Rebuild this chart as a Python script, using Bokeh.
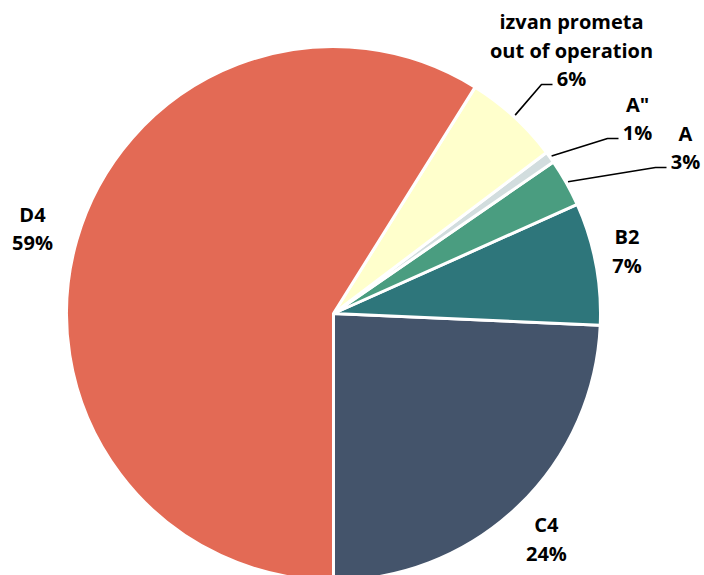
import math
from bokeh.plotting import figure
from bokeh.models import Range1d, ColumnDataSource
from bokeh.core.properties import value
from bokeh.embed import file_html
from bokeh.resources import INLINE

# ---- data ----
categories = ["C4", "B2", "A", 'A"', "izvan prometa|out of operation", "D4"]
shares = [24.3, 7.4, 2.9, 0.7, 5.8, 58.9]
colors = ["#44546B", "#2E767B", "#4A9D80", "#D2DDDE", "#FFFFCC", "#E36A55"]

# ---- layout (page pixels) ----
W, H = 704, 575
PAGE_CX, PAGE_CY = 333, 313
R = 267
LABEL_DIST = 308
LINE_GAP = 28.5
# elbow points for small slices that get leader lines (page px)
leader_elbows = {"A": (655, 167), 'A"': (607, 138), "izvan prometa|out of operation": (541, 84)}
# small page-pixel nudges for directly placed labels
label_nudge = {"C4": (0, 3), "B2": (-9, -5), "D4": (-5, 0)}
LEADER_TAIL = 11
FONT = "Open Sans"
FSIZE = "20px"


def to_data(px, py):
    return px, H - py


CX, CY = to_data(PAGE_CX, PAGE_CY)

total = sum(shares)
starts, ends = [], []
a = -math.pi / 2
for s in shares:
    starts.append(a)
    a += s / total * 2 * math.pi
    ends.append(a)

p = figure(width=W, height=H, output_backend="svg", toolbar_location=None,
           x_range=Range1d(0, W), y_range=Range1d(0, H),
           x_axis_type=None, y_axis_type=None, min_border=0,
           outline_line_color=None, background_fill_color="white")
p.grid.visible = False

src = ColumnDataSource(dict(start=starts, end=ends, color=colors))
p.wedge(x=CX, y=CY, radius=R, start_angle="start", end_angle="end",
        fill_color="color", line_color="white", line_width=3, source=src)

tx, ty, tt = [], [], []
lxs, lys = [], []
for cat, s, st, en in zip(categories, shares, starts, ends):
    mid = (st + en) / 2
    lines = cat.split("|") + ["%d%%" % round(s / total * 100)]
    n = len(lines)
    if cat in leader_elbows:
        ex, ey = to_data(*leader_elbows[cat])
        sx = CX + (R + 2) * math.cos(mid)
        sy = CY + (R + 2) * math.sin(mid)
        lxs.append([sx, ex, ex + LEADER_TAIL])
        lys.append([sy, ey, ey])
        bx = ex + LEADER_TAIL + 19
        by_last = ey + 6
        for i, ln in enumerate(lines):
            tx.append(bx)
            ty.append(by_last + (n - 1 - i) * LINE_GAP)
            tt.append(ln)
    else:
        nx, ny = label_nudge.get(cat, (0, 0))
        bx = CX + LABEL_DIST * math.cos(mid) + nx
        by = CY + LABEL_DIST * math.sin(mid) - ny
        for i, ln in enumerate(lines):
            tx.append(bx)
            ty.append(by + ((n - 1) / 2 - i) * LINE_GAP)
            tt.append(ln)

p.multi_line(xs=lxs, ys=lys, line_color="black", line_width=1.6)
p.text(x=tx, y=ty, text=tt, text_font=value(FONT), text_font_style="bold",
       text_font_size=FSIZE, text_align="center", text_baseline="middle",
       text_color="black")

open("out.html", "w").write(file_html(p, INLINE))
